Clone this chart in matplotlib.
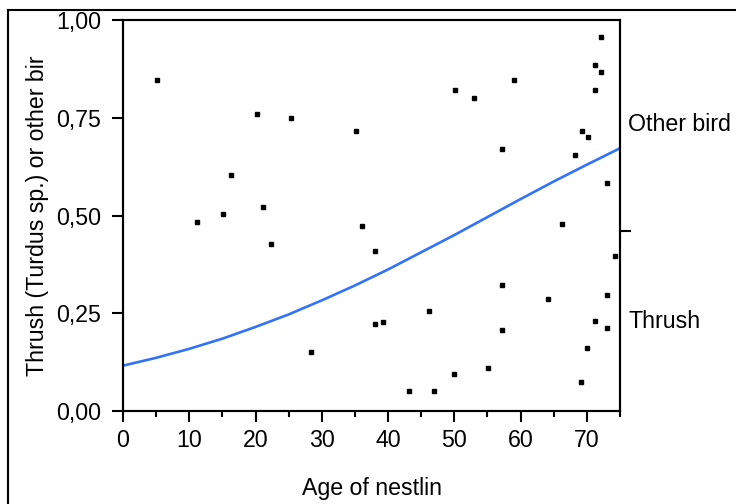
import matplotlib
matplotlib.use("Agg")
import matplotlib.pyplot as plt
from matplotlib.lines import Line2D
from matplotlib.ticker import MultipleLocator, FuncFormatter

plt.rcParams['font.family'] = ['Liberation Sans', 'DejaVu Sans']

# Scatter data (age of nestling, jittered position)
age = [5.2, 11.2, 15.1, 16.3, 20.2, 21.1, 22.3, 25.3, 28.3, 35.1, 36.0, 38.1, 38.1, 39.3,
       43.1, 46.2, 47.0, 50.0, 50.1, 53.0, 55.1, 57.2, 57.2, 57.2, 59.0, 64.1, 66.2, 68.2,
       69.1, 69.2, 70.0, 70.1, 71.2, 71.2, 71.2, 72.1, 72.1, 73.0, 73.0, 73.0, 74.2]
pos = [0.847, 0.483, 0.505, 0.604, 0.760, 0.523, 0.428, 0.750, 0.151, 0.715, 0.474, 0.408, 0.222, 0.227,
       0.050, 0.257, 0.050, 0.095, 0.821, 0.801, 0.111, 0.322, 0.206, 0.670, 0.846, 0.286, 0.478, 0.655,
       0.075, 0.715, 0.161, 0.700, 0.231, 0.886, 0.821, 0.957, 0.866, 0.297, 0.211, 0.584, 0.397]

# Fitted curve
curve_x = [0, 5, 10, 15, 20, 25, 30, 35, 40, 45, 50, 55, 60, 65, 70, 75]
curve_y = [0.116, 0.136, 0.159, 0.185, 0.215, 0.247, 0.283, 0.321, 0.362, 0.406,
           0.450, 0.496, 0.542, 0.587, 0.630, 0.672]

x_label = "Age of nestlin"
y_label = "Thrush (Turdus sp.) or other bir"
right_labels = ["Other bird", "Thrush"]
right_label_pos = [0.732, 0.228]
right_tick = [0.46]

FS = 16.7
fig = plt.figure(figsize=(7.36, 5.04), dpi=100)
ax = fig.add_axes([123/736, 1-411/504, 497/736, 391/504])

ax.plot(curve_x, curve_y, color='#3373f5', lw=1.9, zorder=2)
ax.plot(age, pos, ls='none', marker='s', ms=2.4, color='black', zorder=3)

ax.set_xlim(0, 75)
ax.set_ylim(0, 1)
ax.xaxis.set_major_locator(MultipleLocator(10))
ax.xaxis.set_minor_locator(MultipleLocator(5))
ax.yaxis.set_major_locator(MultipleLocator(0.25))
ax.yaxis.set_major_formatter(FuncFormatter(lambda v, p: f"{v:.2f}".replace('.', ',')))

for s in ax.spines.values():
    s.set_linewidth(1.5)
    s.set_color('black')
ax.tick_params(axis='both', which='major', length=8, width=1.5, labelsize=FS, colors='black')
ax.tick_params(axis='x', which='major', pad=5)
ax.tick_params(axis='y', which='major', pad=8)
ax.tick_params(axis='x', which='minor', length=4, width=1.5)

ax2 = ax.twinx()
ax2.set_ylim(0, 1)
ax2.set_yticks(right_tick)
ax2.set_yticklabels([])
ax2.tick_params(axis='y', length=8, width=1.5)
for s in ax2.spines.values():
    s.set_linewidth(1.5)

for lab, yv in zip(right_labels, right_label_pos):
    ax.annotate(lab, xy=(1.0, yv), xycoords=('axes fraction', 'data'),
                xytext=(6, 0), textcoords='offset points', ha='left', va='center', fontsize=FS)

ax.set_xlabel(x_label, fontsize=FS, labelpad=18)
ax.set_ylabel(y_label, fontsize=FS, labelpad=5)

# outer frame (partially visible)
fig.add_artist(Line2D([8/736, 8/736], [0, 1-10/504], transform=fig.transFigure, color='black', lw=1.5))
fig.add_artist(Line2D([8/736, 1], [1-10/504, 1-10/504], transform=fig.transFigure, color='black', lw=1.5))

fig.savefig("out.png", dpi=100)
